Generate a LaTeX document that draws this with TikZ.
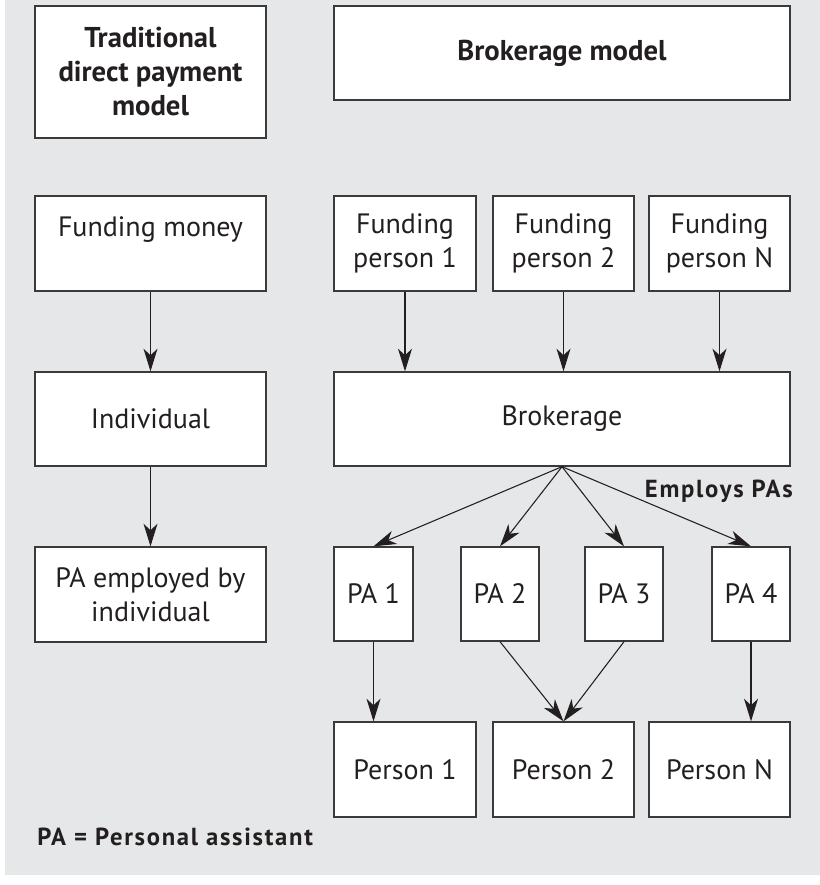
\documentclass[tikz,border=0pt]{standalone}
\usepackage{fontspec}
\setmainfont{PT Sans}
\newfontfamily\lblfont[LetterSpace=7]{PT Sans}
\usetikzlibrary{arrows.meta}
\definecolor{bggray}{HTML}{E6E7E8}
\definecolor{ink}{HTML}{231F20}
\definecolor{edge}{HTML}{3A3A3A}
\tikzset{
  box/.style={draw=edge, line width=1pt, fill=white, align=center, inner sep=0pt,
    text=ink, font=\fontsize{21}{25.5}\selectfont},
  headbox/.style={box, font=\fontsize{21.5}{25.5}\selectfont\bfseries},
  conn/.style={draw=ink, line width=0.8pt,
    -{Stealth[length=17pt, width=10.5pt, inset=5pt]}},
  note/.style={text=ink, inner sep=0pt, font=\fontsize{18.5}{22}\selectfont\bfseries\lblfont}
}
\begin{document}
\begin{tikzpicture}[x=0.75pt, y=-0.75pt]
\useasboundingbox (0,0) rectangle (820,885);
\fill[bggray] (5,0) rectangle (820,875);

% header boxes
\node[headbox, minimum width=173.25pt, minimum height=99pt] (trad) at (150.5,72)
  {Traditional\\direct payment\\model};
\node[headbox, minimum width=342pt, minimum height=70.5pt] (bmod) at (562,53)
  {Brokerage model};

% left column
\node[box, minimum width=173.25pt, minimum height=71.25pt] (fmoney) at (150.5,243.5)
  {Funding money\\\mbox{}};
\node[box, minimum width=173.25pt, minimum height=70.5pt] (indiv) at (150.5,419)
  {Individual};
\node[box, minimum width=173.25pt, minimum height=71.25pt] (paemp) at (150.5,594.5)
  {PA employed by\\individual};

% funding persons
\node[box, minimum width=106.5pt, minimum height=71.25pt] (fp1) at (405,243.5)
  {Funding\\person 1};
\node[box, minimum width=105.75pt, minimum height=71.25pt] (fp2) at (563.5,243.5)
  {Funding\\person 2};
\node[box, minimum width=105.75pt, minimum height=71.25pt] (fpn) at (719.5,243.5)
  {Funding\\person N};

% brokerage
\node[box, minimum width=342pt, minimum height=70.5pt] (brok) at (562,419)
  {Brokerage};

% PAs
\node[box, minimum width=59.25pt, minimum height=70.5pt] (pa1) at (373.5,594) {PA 1};
\node[box, minimum width=58.5pt, minimum height=70.5pt] (pa2) at (500,594) {PA 2};
\node[box, minimum width=58.5pt, minimum height=70.5pt] (pa3) at (624,594) {PA 3};
\node[box, minimum width=58.5pt, minimum height=70.5pt] (pa4) at (751,594) {PA 4};

% persons
\node[box, minimum width=106.5pt, minimum height=71.25pt] (p1) at (405,769.5) {Person 1};
\node[box, minimum width=105.75pt, minimum height=71.25pt] (p2) at (563.5,769.5) {Person 2};
\node[box, minimum width=105.75pt, minimum height=71.25pt] (pn) at (719.5,769.5) {Person N};

% labels
\node[note, anchor=base east] (employs) at (793,497) {Employs PAs};
\node[note, anchor=base west] (legend) at (37,845) {PA = Personal assistant};

% connectors
\draw[conn] (fmoney.south) -- (indiv.north);
\draw[conn] (indiv.south) -- (paemp.north);
\draw[conn] (fp1.south) -- (fp1.south |- brok.north);
\draw[conn] (fp2.south) -- (fp2.south |- brok.north);
\draw[conn] (fpn.south) -- (fpn.south |- brok.north);
\draw[conn] (brok.south) -- (pa1.north);
\draw[conn] (brok.south) -- (pa2.north);
\draw[conn] (brok.south) -- (pa3.north);
\draw[conn] (brok.south) -- (pa4.north);
\draw[conn] (pa1.south) -- (pa1.south |- p1.north);
\draw[conn] (pa2.south) -- (p2.north);
\draw[conn] (pa3.south) -- (p2.north);
\draw[conn] (pa4.south) -- (pa4.south |- pn.north);
\end{tikzpicture}
\end{document}
